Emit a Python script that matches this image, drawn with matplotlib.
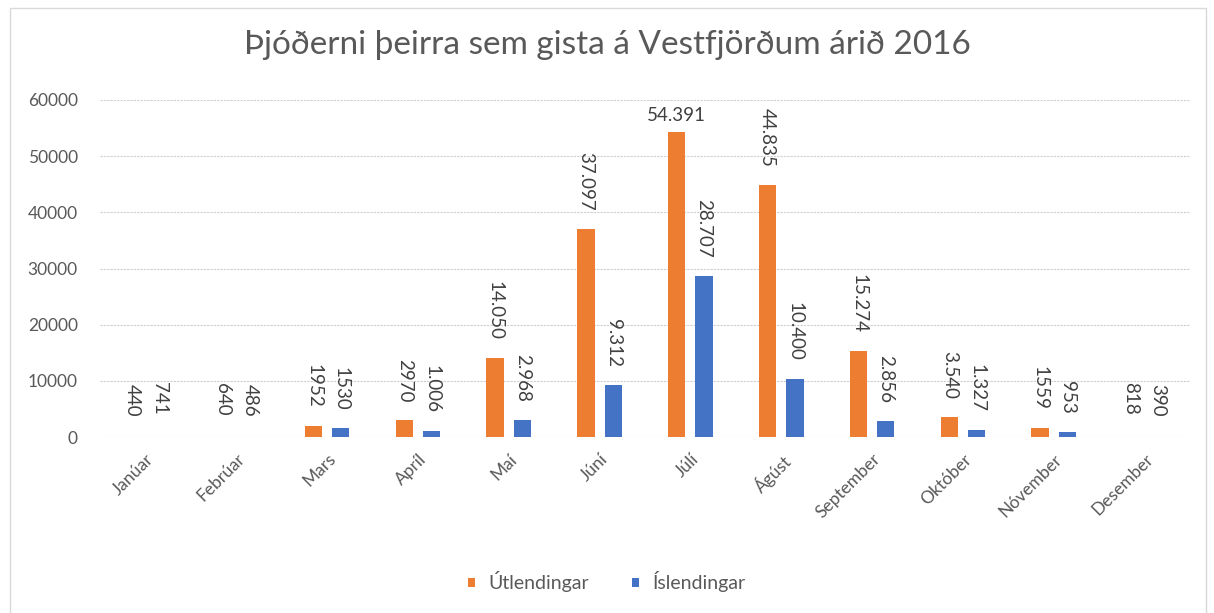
import numpy as np
import matplotlib.pyplot as plt
from matplotlib.patches import Rectangle

plt.rcParams['font.family'] = ['Lato', 'DejaVu Sans']

manudir = ['Janúar', 'Febrúar', 'Mars', 'Apríl', 'Maí', 'Júní', 'Júlí',
           'Ágúst', 'September', 'Október', 'Nóvember', 'Desember']

# bar heights (Jan, Feb, Des show no bar)
utlendingar = [0, 0, 1952, 2970, 14050, 37097, 54391, 44835, 15274, 3540, 1559, 0]
islendingar = [0, 0, 1530, 1006, 2968, 9312, 28707, 10400, 2856, 1327, 953, 0]

# data labels as printed on the chart
utl_merki = ['440', '640', '1952', '2970', '14.050', '37.097', '54.391',
             '44.835', '15.274', '3.540', '1559', '818']
isl_merki = ['741', '486', '1530', '1.006', '2.968', '9.312', '28.707',
             '10.400', '2.856', '1.327', '953', '390']

appelsinugult = '#ED7D31'
blatt = '#4472C4'
grar = '#595959'

fig = plt.figure(figsize=(12.14, 6.13), dpi=100)
fig.patches.append(Rectangle((10 / 1214, -0.1), 1196 / 1214, 1.1 - 8 / 613,
                             transform=fig.transFigure, fill=False,
                             edgecolor='#D9D9D9', linewidth=1))
ax = fig.add_axes([100 / 1214, 1 - 437 / 613, 1090 / 1214, 337 / 613])

x = np.arange(len(manudir))
b = 0.19
d = 0.15
ax.bar(x - d, utlendingar, b, color=appelsinugult, label='Útlendingar', zorder=3)
ax.bar(x + d, islendingar, b, color=blatt, label='Íslendingar', zorder=3)

bil = 3200
for i in range(len(manudir)):
    for xx, h, t in [(x[i] - d, utlendingar[i], utl_merki[i]),
                     (x[i] + d, islendingar[i], isl_merki[i])]:
        y = max(h, int(t.replace('.', '')))
        if h > 50000:
            ax.text(xx, y + 1400, t, ha='center', va='bottom', fontsize=13.5, color='#404040')
        else:
            ax.text(xx, y + bil, t, ha='center', va='bottom', rotation=-90,
                    fontsize=13.5, color='#404040')

ax.set_xlim(-0.5, 11.5)
ax.set_ylim(0, 60000)
ax.set_yticks(np.arange(0, 60001, 10000))
ax.set_xticks(x)
ax.set_xticklabels(manudir, rotation=45, ha='right', rotation_mode='anchor')
ax.tick_params(axis='y', length=0, labelsize=12.5, colors=grar, pad=16)
ax.tick_params(axis='x', length=0, labelsize=12.5, colors=grar, pad=10)
ax.grid(axis='y', color='#CFCFCF', linestyle=(0, (2, 1)), linewidth=0.8, zorder=0)
for s in ax.spines.values():
    s.set_visible(False)

fig.text(0.5, 1 - 45 / 613, 'Þjóðerni þeirra sem gista á Vestfjörðum árið 2016',
         ha='center', va='center', fontsize=24, color=grar)

fig.legend(loc='center', bbox_to_anchor=(0.5, 1 - 582 / 613), ncol=2, frameon=False,
           fontsize=14, labelcolor=grar, handlelength=0.35, handleheight=0.35,
           columnspacing=2.2, handletextpad=0.7)

fig.savefig('out.png', dpi=100)
